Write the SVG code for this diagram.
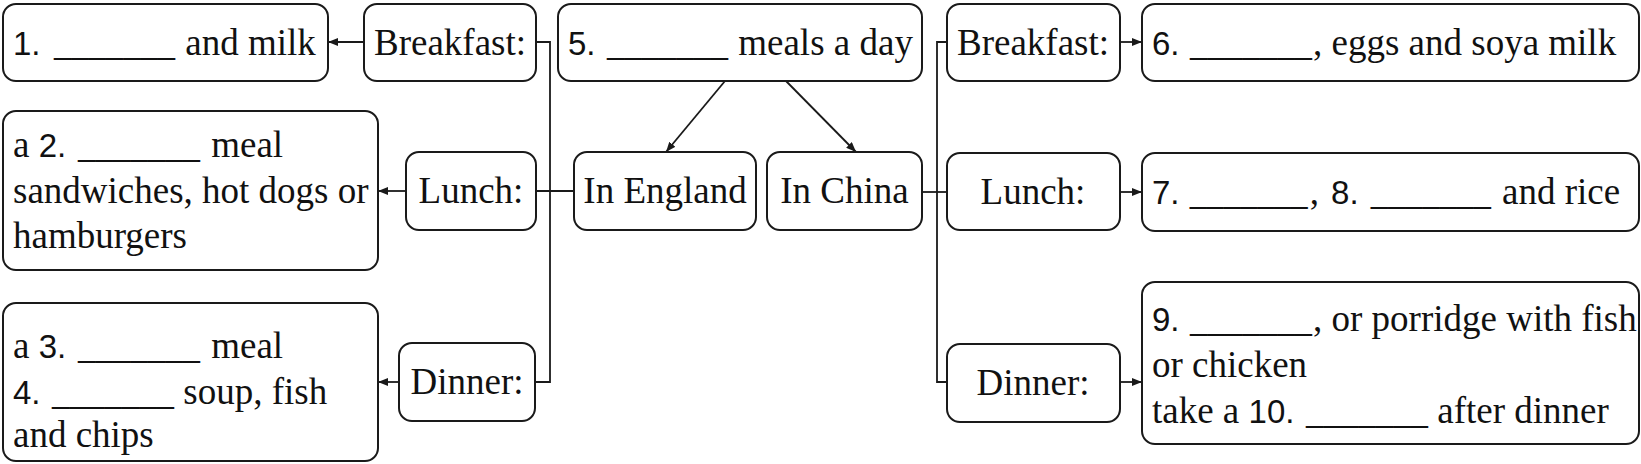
<svg xmlns="http://www.w3.org/2000/svg" width="1641" height="464" viewBox="0 0 1641 464">
<style>
.box{fill:#fff;stroke:#1a1a1a;stroke-width:2}
.t{font-family:"Liberation Serif",serif;font-size:37px;fill:#111}
.m{text-anchor:middle}
.n{font-family:"Liberation Sans",sans-serif;font-size:33px}
.c{fill:none;stroke:#1a1a1a;stroke-width:1.8}
</style>
<defs>
<marker id="ah" markerUnits="userSpaceOnUse" markerWidth="10" markerHeight="8" refX="10" refY="4" orient="auto">
<path d="M0,0 L10,4 L0,8 z" fill="#1a1a1a"/>
</marker>
</defs>
<rect width="1641" height="464" fill="#fff"/>
<g id="connectors">
<path class="c" d="M536,42 H550 V382 H535"/>
<path class="c" d="M536,191 H574"/>
<path class="c" d="M364,42 H328" marker-end="url(#ah)"/>
<path class="c" d="M406,191 H378" marker-end="url(#ah)"/>
<path class="c" d="M399,382 H378" marker-end="url(#ah)"/>
<path class="c" d="M947,42 H937 V382 H947"/>
<path class="c" d="M922,192 H947"/>
<path class="c" d="M1120,42 H1142" marker-end="url(#ah)"/>
<path class="c" d="M1120,192 H1142" marker-end="url(#ah)"/>
<path class="c" d="M1120,382 H1142" marker-end="url(#ah)"/>
<path class="c" d="M725,81 L666,152" marker-end="url(#ah)"/>
<path class="c" d="M786,81 L856,152" marker-end="url(#ah)"/>
</g>
<g id="box1">
<rect class="box" x="3" y="4" width="325" height="77" rx="13"/>
<text class="t" y="55"><tspan class="n" x="13">1. </tspan><tspan x="54" textLength="121" lengthAdjust="spacingAndGlyphs">_______</tspan><tspan x="176"> and milk</tspan></text>
</g>
<g id="breakfast-en">
<rect class="box" x="364" y="4" width="172" height="77" rx="13"/>
<text class="t m" x="450" y="55">Breakfast:</text>
</g>
<g id="box5">
<rect class="box" x="558" y="4" width="364" height="77" rx="13"/>
<text class="t" y="55"><tspan class="n" x="568">5. </tspan><tspan x="607" textLength="121" lengthAdjust="spacingAndGlyphs">_______</tspan><tspan x="729"> meals a day</tspan></text>
</g>
<g id="breakfast-cn">
<rect class="box" x="947" y="4" width="173" height="77" rx="13"/>
<text class="t m" x="1033" y="55">Breakfast:</text>
</g>
<g id="box6">
<rect class="box" x="1142" y="4" width="497" height="77" rx="13"/>
<text class="t" y="55"><tspan class="n" x="1152">6. </tspan><tspan x="1190" textLength="122" lengthAdjust="spacingAndGlyphs">_______</tspan><tspan x="1313">, eggs and soya milk</tspan></text>
</g>
<g id="box2">
<rect class="box" x="3" y="111" width="375" height="159" rx="13"/>
<text class="t" y="157"><tspan x="13">a </tspan><tspan class="n">2. </tspan><tspan x="78" textLength="122" lengthAdjust="spacingAndGlyphs">_______</tspan><tspan x="202"> meal</tspan></text>
<text class="t" x="13" y="203">sandwiches, hot dogs or</text>
<text class="t" x="13" y="248">hamburgers</text>
</g>
<g id="lunch-en">
<rect class="box" x="406" y="152" width="130" height="78" rx="13"/>
<text class="t m" x="471" y="203">Lunch:</text>
</g>
<g id="england">
<rect class="box" x="574" y="152" width="182" height="78" rx="13"/>
<text class="t m" x="665" y="203">In England</text>
</g>
<g id="china">
<rect class="box" x="767" y="152" width="155" height="78" rx="13"/>
<text class="t m" x="844.5" y="203">In China</text>
</g>
<g id="lunch-cn">
<rect class="box" x="947" y="153" width="173" height="77" rx="13"/>
<text class="t m" x="1033" y="204">Lunch:</text>
</g>
<g id="box7">
<rect class="box" x="1142" y="153" width="497" height="78" rx="13"/>
<text class="t" x="1152" y="204"><tspan class="n">7. </tspan><tspan dx="1" textLength="118" lengthAdjust="spacingAndGlyphs">_______</tspan><tspan dx="2">,</tspan><tspan class="n" dx="3"> 8. </tspan><tspan dx="3" textLength="120" lengthAdjust="spacingAndGlyphs">_______</tspan><tspan dx="2"> and rice</tspan></text>
</g>
<g id="box3">
<rect class="box" x="3" y="303" width="375" height="158" rx="13"/>
<text class="t" y="358"><tspan x="13">a </tspan><tspan class="n">3. </tspan><tspan x="78" textLength="122" lengthAdjust="spacingAndGlyphs">_______</tspan><tspan x="202"> meal</tspan></text>
<text class="t" y="404"><tspan class="n" x="13">4. </tspan><tspan x="52" textLength="122" lengthAdjust="spacingAndGlyphs">_______</tspan><tspan x="174"> soup, fish</tspan></text>
<text class="t" x="13" y="447">and chips</text>
</g>
<g id="dinner-en">
<rect class="box" x="399" y="343" width="136" height="78" rx="13"/>
<text class="t m" x="467" y="394">Dinner:</text>
</g>
<g id="dinner-cn">
<rect class="box" x="947" y="344" width="173" height="78" rx="13"/>
<text class="t m" x="1033" y="395">Dinner:</text>
</g>
<g id="box9">
<rect class="box" x="1142" y="282" width="497" height="162" rx="13"/>
<text class="t" y="331"><tspan class="n" x="1152">9. </tspan><tspan x="1190" textLength="122" lengthAdjust="spacingAndGlyphs">_______</tspan><tspan x="1313">, or porridge with fish</tspan></text>
<text class="t" x="1152" y="377">or chicken</text>
<text class="t" y="423"><tspan x="1152">take a </tspan><tspan class="n">10. </tspan><tspan x="1306" textLength="122" lengthAdjust="spacingAndGlyphs">_______</tspan><tspan x="1428"> after dinner</tspan></text>
</g>
</svg>
